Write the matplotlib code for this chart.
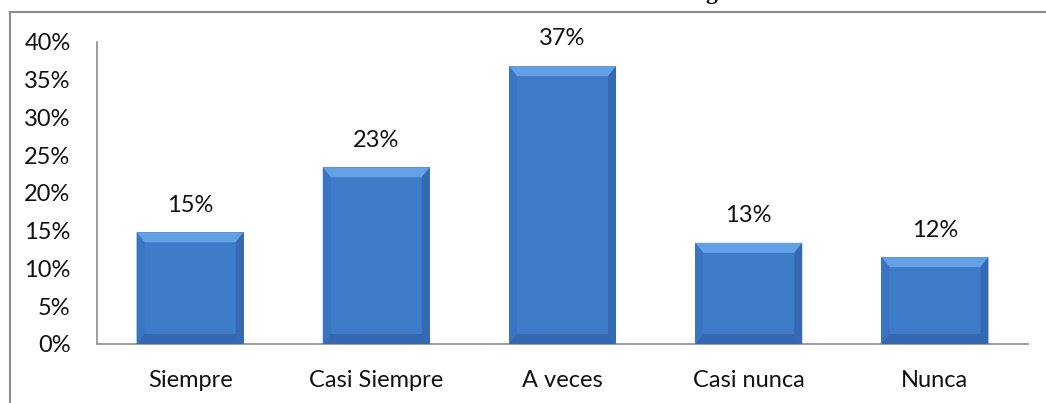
import matplotlib
matplotlib.use("Agg")
import matplotlib.pyplot as plt
from matplotlib.patches import Polygon
from matplotlib.lines import Line2D
from matplotlib.ticker import FuncFormatter

categories = ["Siempre", "Casi Siempre", "A veces", "Casi nunca", "Nunca"]
values = [0.148, 0.234, 0.368, 0.134, 0.115]
labels = ["15%", "23%", "37%", "13%", "12%"]
yticks = [0.0, 0.05, 0.10, 0.15, 0.20, 0.25, 0.30, 0.35, 0.40]

plt.rcParams['font.family'] = ['Lato', 'DejaVu Sans']

W, H = 1046, 403
fig = plt.figure(figsize=(W / 100, H / 100), dpi=100)
ax = fig.add_axes([97 / W, 1 - 344 / H, (1028 - 97) / W, (344 - 42) / H])

x = range(len(categories))
bars = ax.bar(x, values, width=0.575, color="#3e7cca", edgecolor="none", zorder=2)

ax.set_xlim(-0.5, len(categories) - 0.5)
ax.set_ylim(0, 0.40)
ax.set_yticks(yticks)
ax.yaxis.set_major_formatter(FuncFormatter(lambda v, p: f"{v*100:.0f}%"))
ax.set_xticks(list(x))
ax.set_xticklabels(categories)
ax.tick_params(axis="both", length=0, labelsize=17, colors="#111111")
ax.tick_params(axis="y", pad=19)
ax.tick_params(axis="x", pad=19)
for s in ["top", "right"]:
    ax.spines[s].set_visible(False)
for s in ["left", "bottom"]:
    ax.spines[s].set_color("#8c8c8c")
    ax.spines[s].set_linewidth(1.2)

# subtle bevel effect derived from each bar's own geometry
px_y = 0.40 / (344 - 42)
px_x = (len(categories)) / (1028 - 97)
for b in bars:
    x0, w, h = b.get_x(), b.get_width(), b.get_height()
    x1 = x0 + w
    bv_y = 10 * px_y
    bv_x = 8 * px_x
    # top bevel (light)
    ax.add_patch(Polygon([[x0, h], [x1, h], [x1 - bv_x, h - bv_y], [x0 + bv_x, h - bv_y]],
                         closed=True, color="#64a0e6", lw=0, zorder=3))
    # left bevel
    ax.add_patch(Polygon([[x0, h], [x0 + bv_x, h - bv_y], [x0 + bv_x, bv_y], [x0, 0]],
                         closed=True, color="#3a75c3", lw=0, zorder=3))
    # right bevel
    ax.add_patch(Polygon([[x1, h], [x1 - bv_x, h - bv_y], [x1 - bv_x, bv_y], [x1, 0]],
                         closed=True, color="#356ab2", lw=0, zorder=3))
    # bottom bevel
    ax.add_patch(Polygon([[x0, 0], [x1, 0], [x1 - bv_x, bv_y], [x0 + bv_x, bv_y]],
                         closed=True, color="#3568ae", lw=0, zorder=3))

for b, lab in zip(bars, labels):
    ax.annotate(lab, (b.get_x() + b.get_width() / 2, b.get_height()),
                xytext=(0, 12), textcoords="offset points",
                ha="center", va="bottom", fontsize=17, color="#111111")

# outer frame (partial chart border)
fig.add_artist(Line2D([9.5 / W, 1.0], [1 - 11.5 / H, 1 - 11.5 / H],
                      transform=fig.transFigure, color="#8c8c8c", lw=1.5))
fig.add_artist(Line2D([9.5 / W, 9.5 / W], [1 - 11.5 / H, 0.0],
                      transform=fig.transFigure, color="#8c8c8c", lw=1.5))

# cut-off title (only the descender of the last letter is visible)
fig.text(717 / W, 1.0 + 0.5 / H, "g", ha="right", va="baseline",
         fontsize=17, fontweight="bold", family="Liberation Serif", color="#111111")

fig.savefig("out.png", dpi=100)
